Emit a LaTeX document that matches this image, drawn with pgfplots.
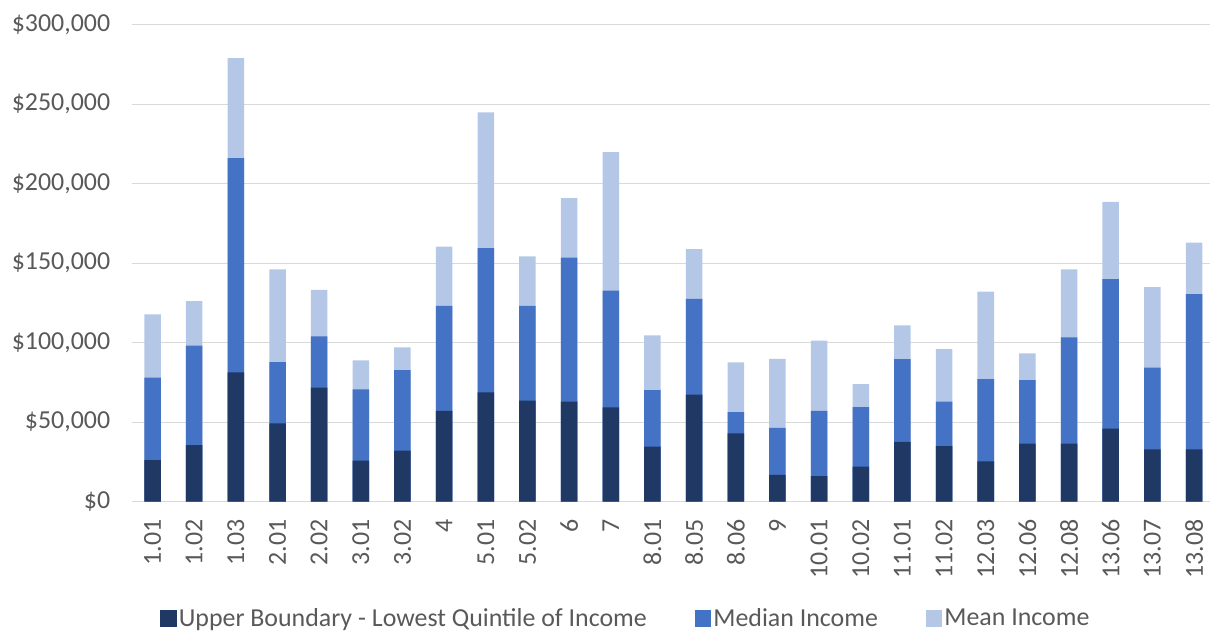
\documentclass[border=0pt]{standalone}
\usepackage{pgfplots}
\pgfplotsset{compat=1.18}
\usepackage{fontspec}
\setmainfont{Carlito}
\definecolor{cdark}{HTML}{203864}
\definecolor{cmed}{HTML}{4472C4}
\definecolor{clight}{HTML}{B4C7E7}
\definecolor{ctext}{HTML}{595959}
\definecolor{cgrid}{HTML}{D9D9D9}
\pgfplotsset{sqleg/.style={legend image code/.code={\fill[#1] (-4bp,-8.5bp) rectangle (12.5bp,8.5bp);}}}
\begin{document}
\begin{tikzpicture}
\begin{axis}[
  at={(0,0)}, anchor=south west,
  scale only axis,
  width=1079bp, height=477bp,
  xmin=-0.5, xmax=25.4,
  ymin=0, ymax=300000,
  axis line style={draw=none},
  ymajorgrids, grid style={cgrid, line width=1.2bp},
  scaled y ticks=false,
  ytick={0,50000,100000,150000,200000,250000,300000},
  yticklabels={{\$0},{\$50,000},{\$100,000},{\$150,000},{\$200,000},{\$250,000},{\$300,000}},
  xtick={0,...,25},
  xticklabels={1.01,1.02,1.03,2.01,2.02,3.01,3.02,4,5.01,5.02,6,7,8.01,8.05,8.06,9,10.01,10.02,11.01,11.02,12.03,12.06,12.08,13.06,13.07,13.08},
  x tick label style={rotate=90, anchor=east, font=\fontsize{26}{26}\selectfont, text=ctext, xshift=-10bp},
  y tick label style={font=\fontsize{26}{26}\selectfont, text=ctext, anchor=east, xshift=-18bp},
  tick style={draw=none},
  ybar, bar width=16.5bp,
  clip=false,
  legend style={at={(0.458,-0.244)}, anchor=center, draw=none, fill=none,
    legend columns=3, font=\fontsize{26}{26}\selectfont, text=ctext,
    /tikz/every even column/.append style={column sep=46bp}},
]
\addplot[fill=clight, draw=none, bar shift=0pt, forget plot] coordinates {
(0,117800) (1,126200) (2,279000) (3,146100) (4,133300) (5,88900) (6,97100)
(7,160400) (8,244900) (9,154300) (10,191000) (11,219900) (12,104600) (13,158900)
(14,87600) (15,89900) (16,101300) (17,74000) (18,110900) (19,96000) (20,132100)
(21,93300) (22,146100) (23,188500) (24,135000) (25,162900)};
\addplot[fill=cmed, draw=none, bar shift=0pt, forget plot] coordinates {
(0,78000) (1,98100) (2,216100) (3,87800) (4,104000) (5,70600) (6,82800)
(7,123100) (8,159500) (9,123100) (10,153500) (11,132700) (12,70200) (13,127500)
(14,56400) (15,46500) (16,57200) (17,59500) (18,89700) (19,62900) (20,77100)
(21,76500) (22,103400) (23,140000) (24,84300) (25,130600)};
\addplot[fill=cdark, draw=none, bar shift=0pt, forget plot] coordinates {
(0,26200) (1,35600) (2,81300) (3,49300) (4,71700) (5,25800) (6,32100)
(7,57200) (8,68800) (9,63500) (10,62900) (11,59300) (12,34600) (13,67300)
(14,43000) (15,16800) (16,16100) (17,22000) (18,37700) (19,35000) (20,25400)
(21,36500) (22,36500) (23,45900) (24,32900) (25,32900)};
\addlegendimage{sqleg, fill=cdark, draw=none}
\addlegendentry{Upper Boundary - Lowest Quintile of Income}
\addlegendimage{sqleg, fill=cmed, draw=none}
\addlegendentry{Median Income}
\addlegendimage{sqleg, fill=clight, draw=none}
\addlegendentry{Mean Income}
\end{axis}
\pgfresetboundingbox
\path[use as bounding box] (-131.7bp,-129.3bp) rectangle (1078.3bp,501.7bp);
\end{tikzpicture}
\end{document}
